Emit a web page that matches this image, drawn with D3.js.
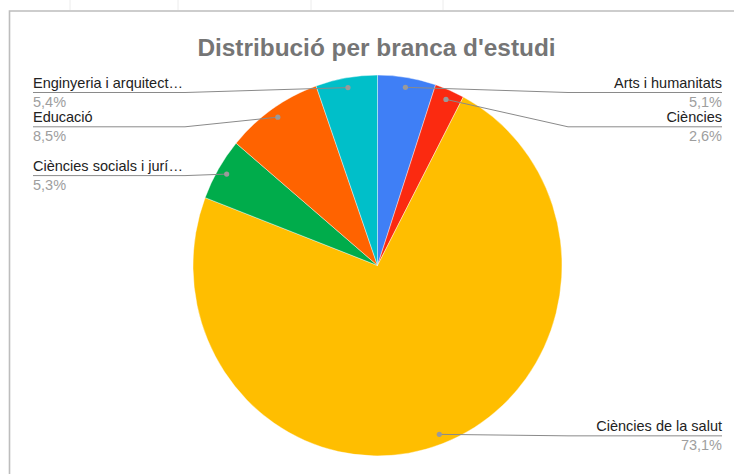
<!DOCTYPE html>
<html>
<head>
  <meta charset="utf-8">
  <title>Distribució per branca d'estudi</title>
  <script src="https://d3js.org/d3.v7.min.js"></script>
  <style>
    body { margin: 0; background: #fff; font-family: "Liberation Sans", Arial, sans-serif; }
    .title { font-size: 24.4px; font-weight: bold; fill: #757575; }
    .name { font-size: 14.5px; fill: #222; }
    .pct { font-size: 14.5px; fill: #9e9e9e; }
    .leader { fill: none; stroke: #8a8a8a; stroke-width: 1; }
  </style>
</head>
<body>
  <svg width="734" height="474"></svg>
  <script>
    // data, clockwise from 12 o'clock
    var categories = ["Arts i humanitats", "Ciències", "Ciències de la salut",
                      "Ciències socials i jurí…", "Educació", "Enginyeria i arquitect…"];
    var shares = [5.1, 2.6, 73.1, 5.3, 8.5, 5.4];
    var colors = ["#3f7ff6", "#fb2a10", "#ffbe00", "#00ac4b", "#ff6300", "#00bfc9"];

    var svg = d3.select("svg");
    var cx = 377.5, cy = 265.5, r = 184.5, sy = 1.032;

    // sheet gridlines + chart frame
    svg.selectAll(".grid").data([70, 178, 311, 443]).enter().append("line")
        .attr("x1", function(d) { return d; }).attr("x2", function(d) { return d; })
        .attr("y1", 0).attr("y2", 10)
        .attr("stroke", "#ececec");
    svg.append("path")
        .attr("d", "M9.5,474V11H734")
        .attr("fill", "none").attr("stroke", "#bdbdbd").attr("stroke-width", 1.6);

    svg.append("text")
        .attr("class", "title")
        .attr("x", cx - 1).attr("y", 56)
        .attr("text-anchor", "middle")
        .text("Distribució per branca d'estudi");

    var pie = d3.pie().sort(null).value(function(d) { return d; });
    var arcs = pie(shares);
    var arc = d3.arc().innerRadius(0).outerRadius(r);
    var dotArc = d3.arc().innerRadius(r * 0.948).outerRadius(r * 0.948);

    var g = svg.append("g")
        .attr("transform", "translate(" + cx + "," + cy + ") scale(1," + sy + ")");
    g.selectAll("path").data(arcs).enter().append("path")
        .attr("d", arc)
        .attr("fill", function(d, i) { return colors[i]; })
        .attr("stroke", "#fff").attr("stroke-width", 0.4);

    // label layout
    var fmt = function(v) { return d3.format(".1f")(v).replace(".", ",") + "%"; };
    var labels = arcs.map(function(d, i) {
      var c = dotArc.centroid(d);
      var mid = (d.startAngle + d.endAngle) / 2;
      return { i: i, dx: cx + c[0], dy: cy + c[1] * sy, right: mid < Math.PI };
    });
    [true, false].forEach(function(side) {
      var list = labels.filter(function(l) { return l.right === side; })
          .sort(function(a, b) { return a.dy - b.dy; });
      var prev = -Infinity;
      list.forEach(function(l) {
        l.y = Math.max(l.dy + 1.5, 92.5, prev + 34.3);
        prev = l.y;
      });
    });

    labels.forEach(function(l) {
      var edge = l.right ? 722 : 33, elbow = l.right ? 568 : 185;
      var pts = [[l.dx, l.dy], [elbow, l.y], [edge, l.y]];
      if (l.right && l.dx > elbow) pts = [[l.dx, l.dy], [edge, l.y]];
      svg.append("path").attr("class", "leader").attr("d", d3.line()(pts));
      svg.append("circle").attr("cx", l.dx).attr("cy", l.dy).attr("r", 2.6).attr("fill", "#9a9a9a");
      var anchor = l.right ? "end" : "start";
      svg.append("text").attr("class", "name").attr("x", edge).attr("y", l.y - 4.5)
          .attr("text-anchor", anchor).text(categories[l.i]);
      svg.append("text").attr("class", "pct").attr("x", edge).attr("y", l.y + 14)
          .attr("text-anchor", anchor).text(fmt(shares[l.i]));
    });
  </script>
</body>
</html>
